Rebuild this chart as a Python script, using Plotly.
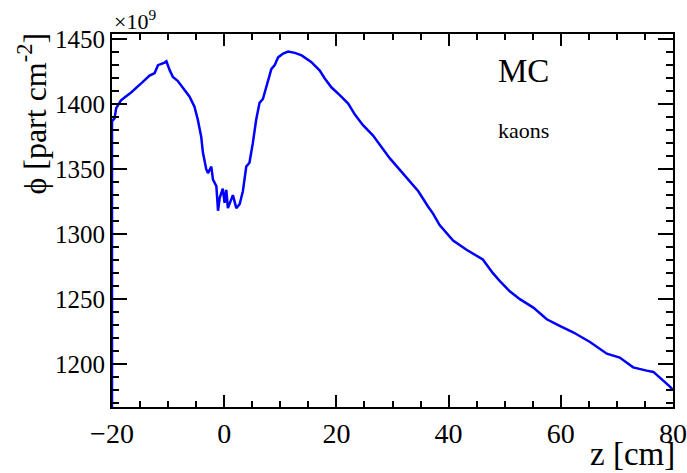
import plotly.graph_objects as go

z_cm = [-20, -19.55, -19.25, -18.4, -16.6, -14.8, -13.3, -12.4, -11.8, -10.6, -10.3, -9.7, -9.15,
        -8.3, -7.65, -7.1, -6.2, -5.3, -4.7, -4.1, -3.8, -3.2, -2.9, -2.3, -2.0, -1.4, -1.1, -0.8,
        -0.25, 0.07, 0.37, 0.66, 1.27, 1.55, 2.16, 2.75, 3.33, 3.6, 3.93, 4.5, 4.8, 5.1, 5.7, 6.3,
        6.9, 7.5, 8.1, 8.4, 9.0, 9.6, 10.5, 11.4, 12.6, 13.8, 15.5, 17.0, 17.9, 19.1, 20.6, 22.1,
        23.3, 24.7, 26.5, 28.0, 29.5, 31.0, 33.1, 34.6, 36.3, 37.2, 38.4, 40.8, 43.2, 45.3, 46.1,
        47.9, 49.1, 50.9, 52.7, 55.1, 57.5, 59.8, 62.2, 65.2, 68.2, 70.5, 72.9, 75.3, 76.5, 79.5, 80]
phi = [1387, 1389, 1397, 1403, 1409, 1416, 1422, 1424, 1430, 1432, 1433, 1426, 1421,
       1418, 1414, 1411, 1406, 1398, 1388, 1375, 1363, 1350, 1347, 1352, 1342, 1337, 1318, 1328,
       1335, 1324, 1334, 1320, 1327, 1330, 1320, 1323, 1333, 1342, 1352, 1355, 1362, 1370, 1388, 1401,
       1404, 1414, 1422, 1427, 1430, 1436, 1439, 1440.5, 1439.5, 1437.5, 1432.5, 1426, 1420, 1413, 1407, 1400.5,
       1392, 1384, 1376, 1367, 1358.5, 1351, 1340.5, 1333, 1321.5, 1316, 1307, 1295, 1288, 1283, 1280.5,
       1270, 1264, 1256, 1250, 1243.5, 1234.5, 1229.5, 1224.5, 1217, 1208, 1205, 1197.5, 1195, 1194, 1182.5, 1180]

x_range = [-20, 80]
y_range = [1167, 1454]
x_ticks = [-20, 0, 20, 40, 60, 80]
x_ticklabels = ["\u221220", "0", "20", "40", "60", "80"]
y_ticks = [1200, 1250, 1300, 1350, 1400, 1450]

# ROOT draws the first bin edge from the axis floor
xs = [z_cm[0]] + z_cm
ys = [y_range[0]] + phi

FONT = "Liberation Serif"

fig = go.Figure()
fig.add_trace(go.Scatter(x=xs, y=ys, mode="lines",
                         line=dict(color="#0000ff", width=2.5), showlegend=False))

axis_common = dict(showline=True, linecolor="black", linewidth=2, mirror="allticks",
                   ticks="inside", tickcolor="black", tickwidth=2, showgrid=False,
                   zeroline=False, automargin=False)

fig.update_xaxes(range=x_range, tickvals=x_ticks, ticktext=x_ticklabels, ticklen=12,
                 tickfont=dict(family=FONT, size=28, color="black"),
                 minor=dict(dtick=5, ticklen=6, ticks="inside", tickcolor="black", tickwidth=2),
                 **axis_common)
fig.update_yaxes(range=y_range, tickvals=y_ticks, ticklen=15,
                 tickfont=dict(family=FONT, size=25, color="black"),
                 minor=dict(dtick=10, ticklen=7, ticks="inside", tickcolor="black", tickwidth=2),
                 **axis_common)

fig.update_layout(
    width=687, height=473,
    margin=dict(l=112, r=14, t=34, b=66, autoexpand=False),
    plot_bgcolor="white", paper_bgcolor="white",
    font=dict(family=FONT, color="black"),
    annotations=[
        dict(text="z [cm]", xref="paper", yref="paper", x=1.008, y=-0.179, xanchor="right",
             yanchor="bottom", showarrow=False, font=dict(size=33, family=FONT)),
        dict(text="\u03d5 [part cm<sup>-2</sup>]", xref="paper", yref="paper", x=-0.142, y=1.01,
             xanchor="center", yanchor="top", textangle=-90, showarrow=False,
             font=dict(size=32, family=FONT)),
        dict(text="\u00d710<sup>9</sup>", xref="paper", yref="paper", x=0, y=0.995,
             xanchor="left", yanchor="bottom", showarrow=False, font=dict(size=22, family=FONT)),
        dict(text="MC", xref="paper", yref="paper", x=0.685, y=0.9, xanchor="left",
             yanchor="middle", showarrow=False, font=dict(size=33, family=FONT)),
        dict(text="kaons", xref="paper", yref="paper", x=0.685, y=0.74, xanchor="left",
             yanchor="middle", showarrow=False, font=dict(size=22, family=FONT)),
    ],
)

fig.write_html("out.html")
